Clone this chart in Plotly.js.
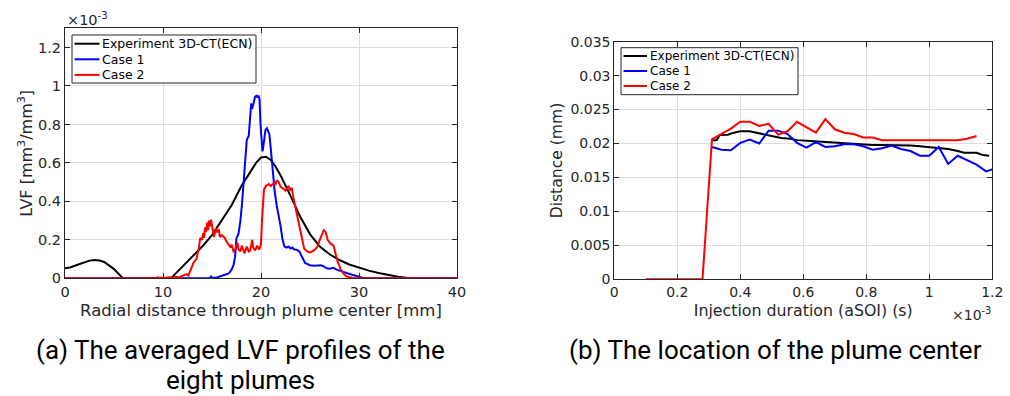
<!DOCTYPE html>
<html>
<head>
<meta charset="utf-8">
<script src="https://cdn.plot.ly/plotly-3.0.1.min.js"></script>
<style>html,body{margin:0;padding:0;background:#fff;}#chart{width:1010px;height:396px;}</style>
</head>
<body>
<div id="chart"></div>
<script>
// ---------- Data: (a) averaged LVF profiles, x in mm, LVF in 1e-3 mm3/mm3 ----------
const seriesNames = ["Experiment 3D-CT(ECN)", "Case 1", "Case 2"];
const seriesColors = ["#000000", "#0000ff", "#ff0000"];

const expProfile = [
  [0,0.052],[0.5,0.056],[1,0.065],[1.5,0.075],[2,0.085],[2.5,0.092],[3,0.095],[3.5,0.093],
  [4,0.085],[4.5,0.068],[5,0.048],[5.5,0.022],[5.9,0],[8,0],[10.8,0],[11,0.01],[12,0.06],
  [13,0.11],[14,0.165],[15,0.225],[16,0.3],[17,0.38],[18,0.48],[19,0.565],[19.5,0.6],
  [20,0.628],[20.5,0.632],[21,0.615],[21.5,0.58],[22,0.535],[22.5,0.485],[23,0.43],
  [23.5,0.375],[24,0.32],[25,0.23],[26,0.165],[27,0.125],[28,0.095],[29,0.072],[30,0.055],
  [31,0.04],[32,0.028],[33,0.017],[34,0.008],[35,0.002],[36,0],[40,0]
];

const case1Profile = [
  [0,0],[9.3,0],[9.5,0.004],[9.8,0],[12,0],[13,0.002],[14,0.002],[14.8,0.002],[14.9,0.012],
  [15.0,0.002],[15.5,0.004],[16,0.012],[16.4,0.02],[16.7,0.025],[17.0,0.045],[17.2,0.07],
  [17.35,0.11],[17.5,0.21],[17.7,0.23],[17.9,0.3],[18.05,0.38],[18.2,0.5],[18.4,0.62],
  [18.55,0.72],[18.75,0.74],[18.9,0.87],[19.0,0.91],[19.1,0.88],[19.2,0.9],[19.3,0.92],
  [19.4,0.945],[19.55,0.95],[19.65,0.94],[19.75,0.95],[19.85,0.93],[19.95,0.8],[20.05,0.7],
  [20.15,0.66],[20.25,0.69],[20.35,0.75],[20.45,0.77],[20.6,0.78],[20.7,0.77],[20.85,0.75],
  [20.95,0.7],[21.1,0.6],[21.25,0.52],[21.4,0.45],[21.6,0.38],[21.8,0.33],[22.0,0.27],
  [22.2,0.2],[22.4,0.165],[22.6,0.16],[22.8,0.165],[23.0,0.155],[23.2,0.16],[23.4,0.15],
  [23.7,0.148],[23.9,0.14],[24.1,0.12],[24.3,0.1],[24.5,0.08],[24.7,0.075],[25.0,0.068],
  [25.4,0.065],[25.8,0.068],[26.1,0.068],[26.4,0.062],[26.7,0.052],[27.0,0.05],[27.4,0.055],
  [27.7,0.045],[28.1,0.04],[28.5,0.032],[28.8,0.026],[29.2,0.02],[29.6,0.014],[30.1,0.005],
  [30.5,0],[40,0]
];

const case2Profile = [
  [0,0],[9.2,0],[9.4,0.005],[9.6,0],[9.8,0.004],[10.0,0],[10.3,0.003],[10.6,0.006],[11.0,0.003],
  [11.3,0.008],[11.6,0.004],[11.9,0.01],[12.1,0.017],[12.4,0.022],[12.6,0.015],[12.8,0.04],
  [13.1,0.08],[13.4,0.1],[13.6,0.14],[13.8,0.21],[14.0,0.2],[14.1,0.235],[14.2,0.21],
  [14.3,0.265],[14.4,0.24],[14.5,0.29],[14.6,0.25],[14.7,0.3],[14.8,0.27],[14.9,0.305],
  [15.0,0.27],[15.2,0.215],[15.4,0.26],[15.5,0.24],[15.7,0.255],[15.8,0.215],[16.0,0.225],
  [16.3,0.21],[16.5,0.19],[16.7,0.175],[16.9,0.16],[17.0,0.175],[17.2,0.14],[17.4,0.15],
  [17.6,0.185],[17.7,0.15],[17.9,0.14],[18.05,0.17],[18.3,0.13],[18.55,0.165],[18.75,0.14],
  [18.9,0.145],[19.1,0.2],[19.2,0.16],[19.4,0.145],[19.6,0.17],[19.8,0.15],[19.9,0.16],
  [20.0,0.18],[20.1,0.3],[20.2,0.42],[20.3,0.46],[20.5,0.48],[20.8,0.49],[21.0,0.48],
  [21.3,0.495],[21.5,0.49],[21.6,0.51],[21.8,0.5],[22.0,0.475],[22.3,0.465],[22.5,0.455],
  [22.7,0.47],[22.8,0.48],[23.0,0.46],[23.15,0.47],[23.3,0.42],[23.5,0.37],[23.7,0.33],
  [23.8,0.3],[24.0,0.25],[24.2,0.19],[24.4,0.155],[24.7,0.14],[25.0,0.135],[25.4,0.145],
  [25.7,0.16],[26.0,0.2],[26.2,0.225],[26.4,0.25],[26.6,0.24],[26.8,0.2],[27.1,0.18],
  [27.4,0.17],[27.6,0.13],[27.8,0.09],[28.1,0.05],[28.4,0.025],[28.7,0.01],[29.1,0.003],
  [29.5,0],[30,0],[40,0]
];

// ---------- Data: (b) plume centre location, x in 1e-3 s ----------
const expCenter = [
  [0.31,0.0205],[0.325,0.0205],[0.335,0.02125],[0.36,0.0213],[0.38,0.0216],[0.40,0.0218],
  [0.43,0.0218],[0.45,0.0216],[0.47,0.0215],[0.49,0.0213],[0.51,0.0211],[0.53,0.0208],
  [0.56,0.0207],[0.58,0.0205],[0.61,0.0204],[0.64,0.0203],[0.67,0.0202],[0.70,0.0201],
  [0.73,0.0200],[0.76,0.0200],[0.79,0.0199],[0.82,0.0198],[0.85,0.0198],[0.88,0.0198],
  [0.91,0.0197],[0.94,0.0197],[0.97,0.0196],[1.00,0.0195],[1.03,0.0193],[1.06,0.0192],
  [1.09,0.0189],[1.11,0.01865],[1.15,0.01865],[1.17,0.0183],[1.19,0.0182]
];
const case1Center = [
  [0.31,0.0195],[0.34,0.0191],[0.37,0.0190],[0.40,0.0201],[0.43,0.0206],[0.46,0.0200],
  [0.49,0.0219],[0.52,0.0219],[0.55,0.0214],[0.58,0.0201],[0.61,0.0194],[0.64,0.0202],
  [0.67,0.0195],[0.70,0.0196],[0.73,0.0199],[0.76,0.0199],[0.79,0.0196],[0.82,0.0191],
  [0.85,0.0193],[0.88,0.0197],[0.91,0.0192],[0.94,0.0189],[0.97,0.0182],[1.00,0.0182],
  [1.03,0.0195],[1.06,0.0170],[1.09,0.0182],[1.12,0.0176],[1.15,0.0169],[1.18,0.0159],
  [1.20,0.0162]
];
const case2Center = [
  [0.10,0],[0.28,0],[0.31,0.0206],[0.34,0.0214],[0.37,0.0222],[0.40,0.0232],[0.43,0.0232],
  [0.46,0.0226],[0.49,0.0229],[0.52,0.0213],[0.55,0.0218],[0.58,0.0232],[0.61,0.0224],
  [0.64,0.0216],[0.67,0.0236],[0.70,0.0221],[0.73,0.0216],[0.76,0.0214],[0.79,0.0209],
  [0.82,0.0209],[0.85,0.0205],[0.88,0.0205],[0.91,0.0205],[0.94,0.0205],[0.97,0.0205],
  [1.00,0.0205],[1.03,0.0205],[1.06,0.0205],[1.09,0.0205],[1.12,0.0207],[1.15,0.0211]
];

const xTicksA = [0, 10, 20, 30, 40];
const yTicksA = [0, 0.2, 0.4, 0.6, 0.8, 1, 1.2];
const xTicksB = [0, 0.2, 0.4, 0.6, 0.8, 1, 1.2];
const yTicksB = [0, 0.005, 0.01, 0.015, 0.02, 0.025, 0.03, 0.035];

const captionA = ["(a) The averaged LVF profiles of the", "eight plumes"];
const captionB = ["(b) The location of the plume center"];

// ---------- Build ----------
const W = 1010, H = 396;
const px = v => v / W;
const py = v => 1 - v / H;
const F = "DejaVu Sans, sans-serif";
const AX = "#262626";
const GRID = "#dedede";

function mk(data, i, xa, ya) {
  return {
    x: data.map(d => d[0]), y: data.map(d => d[1]),
    type: "scatter", mode: "lines", name: seriesNames[i],
    line: {color: seriesColors[i], width: 2},
    xaxis: xa, yaxis: ya, showlegend: false, hoverinfo: "skip"
  };
}
const traces = [
  mk(expProfile, 0, "x", "y"), mk(case1Profile, 1, "x", "y"), mk(case2Profile, 2, "x", "y"),
  mk(expCenter, 0, "x2", "y2"), mk(case1Center, 1, "x2", "y2"), mk(case2Center, 2, "x2", "y2")
];

function axis(fs, extra) {
  return Object.assign({
    showline: true, linecolor: AX, linewidth: 1, mirror: "ticks",
    ticks: "inside", ticklen: 5, tickcolor: AX, tickwidth: 1,
    showgrid: true, gridcolor: GRID, gridwidth: 1, zeroline: false,
    tickfont: {family: F, size: fs, color: AX}, fixedrange: true
  }, extra);
}

const dA = {x0: 65, x1: 457, t: 28.3, b: 278.3};
const dB = {x0: 614.3, x1: 992.3, t: 41.7, b: 279.3};

// manual legends (shapes + annotations)
const shapes = [], annotations = [];
function legend(x0, y0, w, h, rowH, first, lineW, fs) {
  shapes.push({type: "rect", xref: "paper", yref: "paper", x0: px(x0), x1: px(x0 + w),
    y0: py(y0 + h), y1: py(y0), line: {color: AX, width: 1}, fillcolor: "#ffffff", layer: "above"});
  seriesNames.forEach((n, i) => {
    const yc = y0 + first + i * rowH;
    shapes.push({type: "line", xref: "paper", yref: "paper", x0: px(x0 + 2.5), x1: px(x0 + 2.5 + lineW),
      y0: py(yc), y1: py(yc), line: {color: seriesColors[i], width: 2}, layer: "above"});
    annotations.push({xref: "paper", yref: "paper", x: px(x0 + 3 + lineW), y: py(yc), xanchor: "left",
      yanchor: "middle", text: n, showarrow: false, font: {family: F, size: fs, color: "#000"}});
  });
}
legend(72, 35, 184, 48, 15.6, 8.7, 25, 12.5);
legend(621, 47.7, 177, 47, 15, 8.3, 23.5, 12);

// exponent labels
annotations.push({xref: "paper", yref: "paper", x: px(65), y: py(19), xanchor: "left", yanchor: "middle",
  text: "×10<sup>-3</sup>", showarrow: false, font: {family: F, size: 14.5, color: AX}});
annotations.push({xref: "paper", yref: "paper", x: px(993), y: py(314), xanchor: "right", yanchor: "middle",
  text: "×10<sup>-3</sup>", showarrow: false, font: {family: F, size: 14, color: AX}});

// captions
const CF = {family: "Roboto, sans-serif", size: 26, color: "#000"};
captionA.forEach((t, i) => annotations.push({xref: "paper", yref: "paper", x: px(240), y: py(350 + 30 * i),
  xanchor: "center", yanchor: "middle", text: t, showarrow: false, font: CF}));
captionB.forEach((t, i) => annotations.push({xref: "paper", yref: "paper", x: px(775), y: py(350 + 30 * i),
  xanchor: "center", yanchor: "middle", text: t, showarrow: false, font: CF}));

const layout = {
  width: W, height: H, margin: {l: 0, r: 0, t: 0, b: 0},
  paper_bgcolor: "#ffffff", plot_bgcolor: "#ffffff", showlegend: false,
  xaxis: axis(14.5, {domain: [px(dA.x0), px(dA.x1)], range: [0, 40], tickvals: xTicksA, anchor: "y",
    title: {text: "Radial distance through plume center [mm]", standoff: 5, font: {family: F, size: 16.5, color: AX}}}),
  yaxis: axis(14.5, {domain: [py(dA.b), py(dA.t)], range: [0, 1.3], tickvals: yTicksA, anchor: "x",
    title: {text: "LVF [mm<sup>3</sup>/mm<sup>3</sup>]", standoff: 1, font: {family: F, size: 16, color: AX}}}),
  xaxis2: axis(14, {domain: [px(dB.x0), px(dB.x1)], range: [0, 1.2], tickvals: xTicksB, anchor: "y2",
    title: {text: "Injection duration (aSOI) (s)", standoff: 5, font: {family: F, size: 15.8, color: AX}}}),
  yaxis2: axis(14, {domain: [py(dB.b), py(dB.t)], range: [0, 0.035], tickvals: yTicksB, anchor: "x2",
    title: {text: "Distance (mm)", standoff: 3, font: {family: F, size: 15.6, color: AX}}}),
  shapes: shapes, annotations: annotations
};

Plotly.newPlot("chart", traces, layout, {staticPlot: true, displayModeBar: false});
</script>
</body>
</html>
